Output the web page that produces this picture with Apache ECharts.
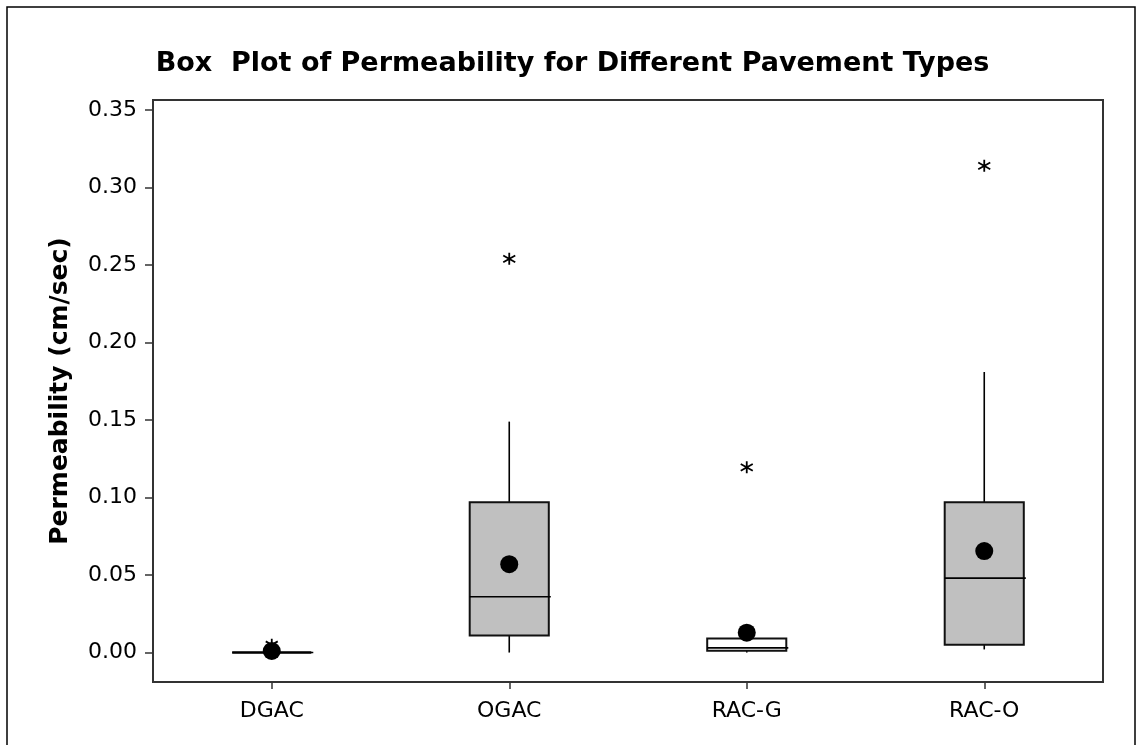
<!DOCTYPE html>
<html>
<head>
<meta charset="utf-8">
<script src="https://cdn.jsdelivr.net/npm/echarts@6/dist/echarts.min.js"></script>
<style>html,body{margin:0;padding:0;background:#fff}#c{width:1145px;height:745px}</style>
</head>
<body>
<div id="c"></div>
<script>
const categories = ['DGAC', 'OGAC', 'RAC-G', 'RAC-O'];
const lowWhisker  = [0, 0.000, 0.000, 0.002];
const q1Values    = [0, 0.011, 0.0012, 0.005];
const medians     = [0, 0.036, 0.003, 0.048];
const q3Values    = [0, 0.097, 0.009, 0.097];
const highWhisker = [0, 0.149, 0.009, 0.181];
const means       = [0.001, 0.057, 0.0128, 0.0655];
const outlierCategories = ['DGAC', 'OGAC', 'RAC-G', 'RAC-O'];
const outlierValues     = [0.005, 0.254, 0.1195, 0.314];
const yTickValues = [0, 0.05, 0.10, 0.15, 0.20, 0.25, 0.30, 0.35];

const boxFills = ['#c0c0c0', '#c0c0c0', '#ffffff', '#c0c0c0'];

const boxData = categories.map((c, i) => [i, lowWhisker[i], q1Values[i], medians[i], q3Values[i], highWhisker[i]]);
const meanData = categories.map((c, i) => [c, means[i]]);
const outlierData = outlierCategories.map((c, i) => [c, outlierValues[i]]);

function renderBox(params, api) {
  const idx = api.value(0);
  const lo = api.coord([idx, api.value(1)]);
  const p1 = api.coord([idx, api.value(2)]);
  const pm = api.coord([idx, api.value(3)]);
  const p3 = api.coord([idx, api.value(4)]);
  const hi = api.coord([idx, api.value(5)]);
  const w = api.size([1, 0])[0] * 0.333;
  const cx = p1[0];
  const lineStyle = { stroke: '#000', lineWidth: 1.6 };
  const children = [];
  if (hi[1] < p3[1] - 0.5) {
    children.push({ type: 'line', shape: { x1: cx, y1: hi[1], x2: cx, y2: p3[1] }, style: lineStyle });
  }
  if (lo[1] > p1[1] + 0.5) {
    children.push({ type: 'line', shape: { x1: cx, y1: p1[1], x2: cx, y2: lo[1] }, style: lineStyle });
  }
  const flat = p1[1] - p3[1] < 0.5;
  children.push({
    type: 'rect',
    shape: { x: cx - w / 2, y: p3[1], width: w, height: Math.max(p1[1] - p3[1], 0) },
    style: { fill: boxFills[params.dataIndex], stroke: '#111', lineWidth: flat ? 2.6 : 2 }
  });
  children.push({ type: 'line', shape: { x1: cx - w / 2, y1: pm[1], x2: cx + w / 2 + 2, y2: pm[1] }, style: { stroke: '#000', lineWidth: 1.6 } });
  return { type: 'group', children: children };
}

const chart = echarts.init(document.getElementById('c'), null, { renderer: 'canvas' });
chart.setOption({
  animation: false,
  backgroundColor: '#fff',
  title: {
    text: 'Box  Plot of Permeability for Different Pavement Types',
    left: 'center',
    top: 45,
    textStyle: { fontFamily: 'DejaVu Sans', fontWeight: 'bold', fontSize: 27, color: '#000' }
  },
  graphic: [{
    type: 'rect',
    shape: { x: 7, y: 7, width: 1128, height: 800 },
    style: { fill: 'none', stroke: '#000', lineWidth: 1.5 },
    silent: true
  }],
  grid: { left: 153, right: 42, top: 100, bottom: 63, show: true, borderColor: '#333', borderWidth: 2, backgroundColor: 'transparent' },
  xAxis: {
    type: 'category',
    data: categories,
    boundaryGap: true,
    axisLine: { onZero: false, lineStyle: { color: '#333', width: 2 } },
    axisTick: { show: true, alignWithLabel: true, length: 7, lineStyle: { color: '#333', width: 1.5 } },
    axisLabel: { margin: 18, fontFamily: 'DejaVu Sans', fontSize: 22, color: '#000' },
    splitLine: { show: false }
  },
  yAxis: {
    type: 'value',
    min: -0.019,
    max: 0.3565,
    name: 'Permeability (cm/sec)',
    nameLocation: 'middle',
    nameGap: 80,
    nameRotate: 90,
    nameTextStyle: { fontFamily: 'DejaVu Sans', fontWeight: 'bold', fontSize: 25, color: '#000' },
    axisLine: { show: true, lineStyle: { color: '#333', width: 2 } },
    axisTick: { show: true, length: 8, customValues: yTickValues, lineStyle: { color: '#333', width: 1.5 } },
    axisLabel: { margin: 16, customValues: yTickValues, formatter: v => v.toFixed(2), fontFamily: 'DejaVu Sans', fontSize: 22, color: '#000' },
    splitLine: { show: false }
  },
  series: [
    {
      type: 'custom',
      renderItem: renderBox,
      encode: { x: 0, y: [1, 2, 3, 4, 5] },
      data: boxData,
      z: 2
    },
    {
      type: 'scatter',
      data: meanData,
      symbol: 'circle',
      symbolSize: 18,
      itemStyle: { color: '#000', opacity: 1 },
      z: 4
    },
    {
      type: 'scatter',
      data: outlierData,
      symbol: 'path://M6,0L6,12M0.8,2.6L11.2,9.4M0.8,9.4L11.2,2.6',
      symbolSize: [12, 12],
      itemStyle: { color: 'none', borderColor: '#000', borderWidth: 1.8, opacity: 1 },
      z: 3
    }
  ]
});
</script>
</body>
</html>
